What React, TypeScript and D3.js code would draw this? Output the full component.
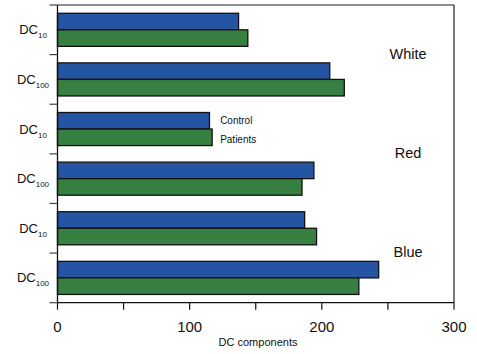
import * as d3 from 'd3';

const rowIds = ['W10', 'W100', 'R10', 'R100', 'B10', 'B100'];
const rowSubs = ['10', '100', '10', '100', '10', '100'];
const controlValues = [137, 206, 115, 194, 187, 243];
const patientValues = [144, 217, 117, 185, 196, 228];
const seriesNames = ['Control', 'Patients'];
const groupNames = ['White', 'Red', 'Blue'];
const xTicks = [0, 50, 100, 150, 200, 250, 300];
const xTickLabels = [0, 100, 200, 300];

const W = 477;
const H = 354;
const margin = { top: 5, right: 23, bottom: 51.3, left: 57.5 };
const FONT = '"Liberation Sans", Arial, Helvetica, sans-serif';
const colors = ['#2554a3', '#378042'];

export default function App() {
  const x = d3.scaleLinear().domain([0, 300]).range([margin.left, W - margin.right]);
  const y = d3.scaleBand<string>().domain(rowIds).range([margin.top, H - margin.bottom]).padding(0);
  const ySub = d3.scaleBand<string>().domain(seriesNames).range([0, y.bandwidth()]).paddingInner(0).paddingOuter(0.5);

  const top = margin.top;
  const bottom = H - margin.bottom;
  const left = margin.left;
  const right = W - margin.right;
  const boundaries = rowIds.map((id) => y(id) as number).concat([bottom]);

  const legendRow = 'R10';
  const legendX = x(Math.max(controlValues[2], patientValues[2])) + 8;

  return (
    <svg width={W} height={H} style={{ position: 'absolute', left: 0, top: 0, fontFamily: FONT }}>
      <rect x={0} y={0} width={W} height={H} fill="#fff" />
      {rowIds.map((id, i) =>
        [controlValues[i], patientValues[i]].map((v, s) => (
          <rect
            key={id + s}
            x={x(0)}
            y={(y(id) as number) + (ySub(seriesNames[s]) as number)}
            width={x(v) - x(0)}
            height={ySub.bandwidth()}
            fill={colors[s]}
            stroke="#111"
            strokeWidth={1.3}
          />
        ))
      )}
      {/* frame */}
      <line x1={left} x2={right} y1={top} y2={top} stroke="#222" strokeWidth={1.2} />
      <line x1={right} x2={right} y1={top} y2={bottom} stroke="#222" strokeWidth={1.2} />
      <line x1={left} x2={left} y1={top} y2={bottom} stroke="#111" strokeWidth={1.3} />
      <line x1={left} x2={right} y1={bottom} y2={bottom} stroke="#111" strokeWidth={1.3} />
      {/* y ticks */}
      {boundaries.map((b, i) => (
        <line key={'yt' + i} x1={left - 8} x2={left} y1={b} y2={b} stroke="#444" strokeWidth={1.2} />
      ))}
      {/* x ticks */}
      {xTicks.map((t) => (
        <line key={'xt' + t} x1={x(t)} x2={x(t)} y1={bottom} y2={bottom + 7} stroke="#111" strokeWidth={1.2} />
      ))}
      {xTickLabels.map((t) => (
        <text key={'xl' + t} x={x(t)} y={bottom + 29} textAnchor="middle" fontSize={15} fill="#111">
          {t}
        </text>
      ))}
      <text x={258} y={H - 8} textAnchor="middle" fontSize={11} fill="#111">
        DC components
      </text>
      {/* row labels */}
      {rowIds.map((id, i) => {
        const cy = (y(id) as number) + y.bandwidth() / 2;
        return (
          <text key={'rl' + id} x={33} y={cy + 4.5} textAnchor="middle" fontSize={13} fill="#111">
            DC
            <tspan fontSize={8} dy={4}>
              {rowSubs[i]}
            </tspan>
          </text>
        );
      })}
      {/* group labels */}
      {groupNames.map((g, i) => {
        const cy = (y(rowIds[i * 2 + 1]) as number) - 1;
        return (
          <text key={'g' + g} x={408} y={cy + 5} textAnchor="middle" fontSize={14.5} fill="#111">
            {g}
          </text>
        );
      })}
      {/* series labels */}
      {seriesNames.map((s, i) => (
        <text
          key={'s' + s}
          x={legendX}
          y={(y(legendRow) as number) + (ySub(s) as number) + ySub.bandwidth() / 2 + 3.5 + i * 2}
          fontSize={10}
          fill="#111"
        >
          {s}
        </text>
      ))}
    </svg>
  );
}
